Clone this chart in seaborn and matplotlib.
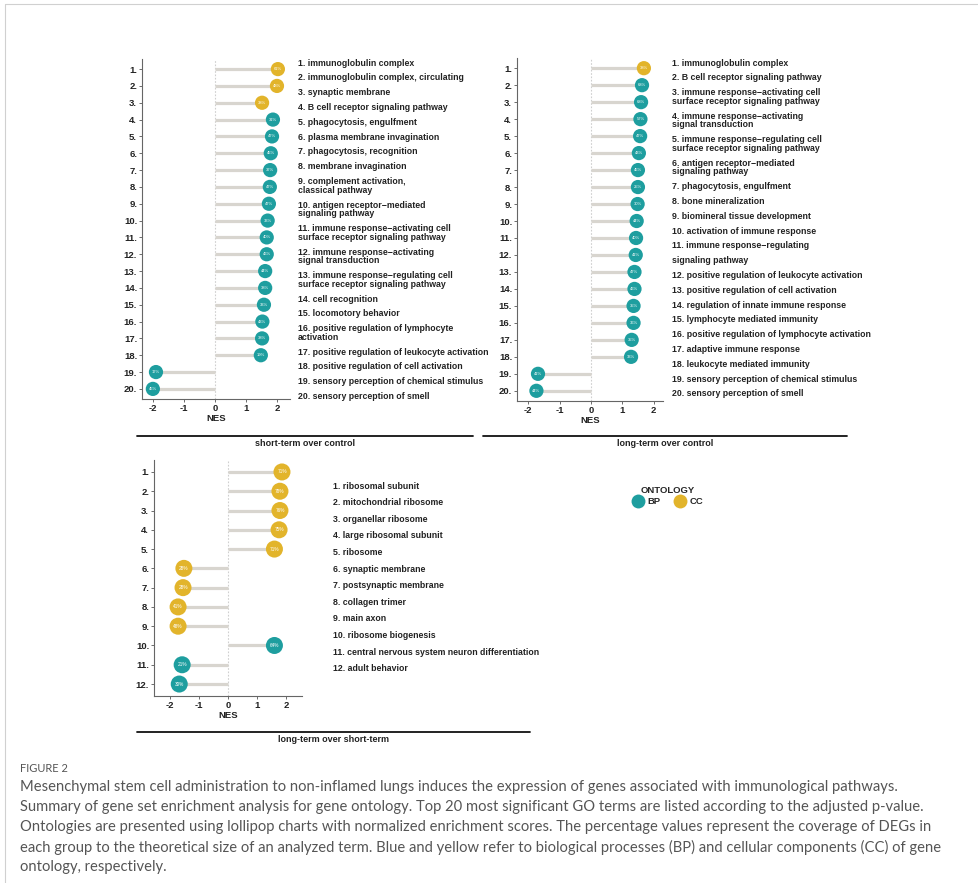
import matplotlib
matplotlib.use("Agg")
import matplotlib.pyplot as plt
from matplotlib.lines import Line2D
import pandas as pd
import seaborn as sns

sns.set_style("white")
plt.rcParams["font.family"] = ["Liberation Sans", "DejaVu Sans"]
plt.rcParams["axes.unicode_minus"] = False

# ---------------- data ----------------
ranks_20 = list(range(1, 21))
ranks_12 = list(range(1, 13))

st_nes = [2.03, 2.00, 1.52, 1.87, 1.84, 1.80, 1.78, 1.77, 1.74, 1.70,
          1.67, 1.67, 1.62, 1.62, 1.58, 1.53, 1.52, 1.48, -1.90, -2.00]
st_ont = ["CC", "CC", "CC"] + ["BP"] * 17
st_pct = ["61%", "48%", "38%", "31%", "47%", "45%", "37%", "47%", "47%", "33%",
          "40%", "46%", "44%", "38%", "33%", "43%", "38%", "19%", "17%", "45%"]
st_terms = [
    "1. immunoglobulin complex",
    "2. immunoglobulin complex, circulating",
    "3. synaptic membrane",
    "4. B cell receptor signaling pathway",
    "5. phagocytosis, engulfment",
    "6. plasma membrane invagination",
    "7. phagocytosis, recognition",
    "8. membrane invagination",
    "9. complement activation,\nclassical pathway",
    "10. antigen receptor\u2212mediated\nsignaling pathway",
    "11. immune response\u2212activating cell\nsurface receptor signaling pathway",
    "12. immune response\u2212activating\nsignal transduction",
    "13. immune response\u2212regulating cell\nsurface receptor signaling pathway",
    "14. cell recognition",
    "15. locomotory behavior",
    "16. positive regulation of lymphocyte\nactivation",
    "17. positive regulation of leukocyte activation",
    "18. positive regulation of cell activation",
    "19. sensory perception of chemical stimulus",
    "20. sensory perception of smell",
]

lt_nes = [1.69, 1.63, 1.60, 1.58, 1.57, 1.53, 1.50, 1.50, 1.49, 1.46,
          1.44, 1.43, 1.39, 1.39, 1.36, 1.36, 1.30, 1.28, -1.69, -1.74]
lt_ont = ["CC"] + ["BP"] * 19
lt_pct = ["38%", "68%", "68%", "57%", "47%", "43%", "45%", "25%", "30%", "44%",
          "40%", "41%", "47%", "46%", "35%", "36%", "35%", "33%", "41%", "44%"]
lt_terms = [
    "1. immunoglobulin complex",
    "2. B cell receptor signaling pathway",
    "3. immune response\u2212activating cell\nsurface receptor signaling pathway",
    "4. immune response\u2212activating\nsignal transduction",
    "5. immune response\u2212regulating cell\nsurface receptor signaling pathway",
    "6. antigen receptor\u2212mediated\nsignaling pathway",
    "7. phagocytosis, engulfment",
    "8. bone mineralization",
    "9. biomineral tissue development",
    "10. activation of immune response",
    "11. immune response\u2212regulating",
    "signaling pathway",
    "12. positive regulation of leukocyte activation",
    "13. positive regulation of cell activation",
    "14. regulation of innate immune response",
    "15. lymphocyte mediated immunity",
    "16. positive regulation of lymphocyte activation",
    "17. adaptive immune response",
    "18. leukocyte mediated immunity",
    "19. sensory perception of chemical stimulus",
    "20. sensory perception of smell",
]

ls_nes = [1.86, 1.79, 1.79, 1.76, 1.60, -1.52, -1.55, -1.72, -1.72, 1.60, -1.58, -1.68]
ls_ont = ["CC"] * 9 + ["BP"] * 3
ls_pct = ["71%", "78%", "76%", "75%", "71%", "28%", "28%", "41%", "48%", "64%", "21%", "30%"]
ls_terms = [
    "1. ribosomal subunit",
    "2. mitochondrial ribosome",
    "3. organellar ribosome",
    "4. large ribosomal subunit",
    "5. ribosome",
    "6. synaptic membrane",
    "7. postsynaptic membrane",
    "8. collagen trimer",
    "9. main axon",
    "10. ribosome biogenesis",
    "11. central nervous system neuron differentiation",
    "12. adult behavior",
]

panel_titles = ["short-term over control", "long-term over control", "long-term over short-term"]
x_ticks = [-2, -1, 0, 1, 2]

caption_head = "FIGURE 2"
caption_lines = [
    "Mesenchymal stem cell administration to non-inflamed lungs induces the expression of genes associated with immunological pathways.",
    "Summary of gene set enrichment analysis for gene ontology. Top 20 most significant GO terms are listed according to the adjusted p-value.",
    "Ontologies are presented using lollipop charts with normalized enrichment scores. The percentage values represent the coverage of DEGs in",
    "each group to the theoretical size of an analyzed term. Blue and yellow refer to biological processes (BP) and cellular components (CC) of gene",
    "ontology, respectively.",
]

# ---------------- styling ----------------
BP_COL = "#1E9E9F"
CC_COL = "#E2B42B"
STEM_COL = "#D8D5CF"
palette = {"BP": BP_COL, "CC": CC_COL}

W, H = 979, 883
fig = plt.figure(figsize=(W / 100, H / 100), dpi=100)
fig.patch.set_facecolor("white")


def fx(x):
    return x / W


def fy(y):
    return 1 - y / H


def add_ax(left, top, right, bottom):
    return fig.add_axes([fx(left), fy(bottom), (right - left) / W, (bottom - top) / H])


def lollipop(ax, ranks, nes, ont, pct, xlim, ylim, msize, pfont):
    df = pd.DataFrame({"rank": ranks, "nes": nes, "ontology": ont, "pct": pct})
    ax.axvline(0, color="#CFCFCF", lw=0.8, ls=(0, (1.5, 1.5)), zorder=0)
    ax.hlines(df["rank"], 0, df["nes"], color=STEM_COL, lw=2.3, zorder=1)
    sns.scatterplot(data=df, x="nes", y="rank", hue="ontology", palette=palette,
                    s=msize, edgecolor="none", linewidth=0, legend=False,
                    ax=ax, zorder=3)
    for r, v, p in zip(df["rank"], df["nes"], df["pct"]):
        ax.text(v, r, p, color="white", fontsize=pfont, ha="center", va="center",
                zorder=4)
    ax.set_xlim(*xlim)
    ax.set_ylim(*ylim)
    ax.set_xticks(x_ticks)
    ax.set_xticklabels([str(t) for t in x_ticks], fontweight="bold", fontsize=6.8)
    ax.set_yticks(list(df["rank"]))
    ax.set_yticklabels([f"{r}." for r in df["rank"]], fontweight="bold", fontsize=6.8)
    ax.tick_params(axis="both", length=2, width=0.6, color="#555555", pad=1.5,
                   labelcolor="#222222")
    ax.tick_params(axis="y", left=True)
    ax.tick_params(axis="x", bottom=True)
    ax.set_xlabel("NES", fontweight="bold", fontsize=6.8, labelpad=1, color="#222222")
    ax.set_ylabel("")
    for s in ["top", "right"]:
        ax.spines[s].set_visible(False)
    for s in ["left", "bottom"]:
        ax.spines[s].set_color("#666666")
        ax.spines[s].set_linewidth(0.8)
    ax.set_facecolor("none")


def term_list(x, y0, terms, step, inner, size):
    y = y0
    for t in terms:
        n = t.count("\n") + 1
        fig.text(fx(x), fy(y - 4.4), t, fontsize=size, fontweight="bold",
                 color="#222222", ha="left", va="top", linespacing=0.95)
        y += step + inner * (n - 1)


def underline(x0, x1, y, label, ty):
    fig.add_artist(Line2D([fx(x0), fx(x1)], [fy(y), fy(y)], color="#111111", lw=1.3))
    fig.text(fx((x0 + x1) / 2), fy(ty), label, fontsize=6.5, fontweight="bold",
             color="#222222", ha="center", va="center")


# panel: short-term over control
ax1 = add_ax(142, 59, 290, 399)
lollipop(ax1, ranks_20, st_nes, st_ont, st_pct, (-2.35, 2.42), (20.6, 0.4), 105, 3.0)
term_list(298, 63, st_terms, 14.8, 8.7, 6.3)
underline(137, 473, 436, panel_titles[0], 443)

# panel: long-term over control
ax2 = add_ax(517, 58, 663, 401)
lollipop(ax2, ranks_20, lt_nes, lt_ont, lt_pct, (-2.36, 2.3), (20.6, 0.4), 105, 3.0)
term_list(672, 63, lt_terms, 14.8, 8.7, 6.3)
underline(483, 847, 436, panel_titles[1], 443)

# panel: long-term over short-term
ax3 = add_ax(154, 460, 302, 696)
lollipop(ax3, ranks_12, ls_nes, ls_ont, ls_pct, (-2.55, 2.55), (12.62, 0.38), 150, 3.4)
term_list(333, 486, ls_terms, 16.6, 8.7, 6.3)
underline(137, 530, 732, panel_titles[2], 740)

# ontology legend
handles = [Line2D([], [], marker="o", ls="none", markersize=10, color=palette[k],
                  markeredgewidth=0) for k in ["BP", "CC"]]
leg = fig.legend(handles, ["BP", "CC"], title="ONTOLOGY", ncol=2, frameon=False,
                 loc="center", bbox_to_anchor=(fx(668), fy(496)),
                 prop={"weight": "bold", "size": 6.8}, handletextpad=0.5,
                 columnspacing=1.6, borderpad=0, handlelength=1.0,
                 labelspacing=0.2)
leg.get_title().set_fontweight("bold")
leg.get_title().set_fontsize(6.8)

# page frame
fig.add_artist(Line2D([fx(5), fx(5)], [fy(4), fy(883)], color="#D0D0D0", lw=0.8))
fig.add_artist(Line2D([fx(5), fx(979)], [fy(4), fy(4)], color="#D0D0D0", lw=0.8))

# caption
fig.text(fx(20), fy(768), caption_head, fontsize=8, color="#555555",
         family=["Lato", "DejaVu Sans"], ha="left", va="center")
for i, line in enumerate(caption_lines):
    fig.text(fx(20), fy(787 + 20 * i), line, fontsize=10.6, color="#555555",
             family=["Lato", "DejaVu Sans"], ha="left", va="center")

fig.savefig("out.png", dpi=100, facecolor="white")
